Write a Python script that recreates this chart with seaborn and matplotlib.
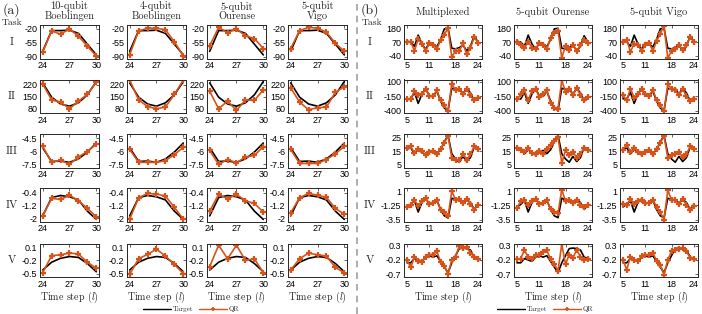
import matplotlib
matplotlib.use('Agg')
import matplotlib.pyplot as plt
import seaborn as sns
from matplotlib.lines import Line2D

sns.set_theme(style='white')
plt.rcParams['font.family'] = ['Liberation Sans', 'DejaVu Sans']
plt.rcParams['mathtext.fontset'] = 'cm'
plt.rcParams['axes.unicode_minus'] = False

# ---- data -------------------------------------------------------------
tasks = ['I', 'II', 'III', 'IV', 'V']
steps_a = [24, 25, 26, 27, 28, 29, 30]
steps_b = list(range(5, 25))

devices_a = ['10-qubit\nBoeblingen', '4-qubit\nBoeblingen', '5-qubit\nOurense', '5-qubit\nVigo']
devices_b = ['Multiplexed', '5-qubit Ourense', '5-qubit Vigo']

xticks_a = [24, 27, 30]
xticks_b = [5, 11, 18, 24]
yticks_a = [[-90, -55, -20], [80, 150, 220], [-7.5, -6, -4.5], [-2, -1.2, -0.4], [-0.5, -0.2, 0.1]]
yticks_b = [[-40, 70, 180], [-400, -150, 100], [5, 15, 25], [-3.5, -1.25, 1], [-0.7, -0.2, 0.3]]

target_a = [
    [-76, -24, -24, -23, -31, -58, -85],
    [232, 148, 108, 95, 115, 162, 240],
    [-5.6, -7.2, -7.15, -7.3, -6.9, -6.1, -5.05],
    [-1.85, -0.7, -0.57, -0.65, -0.85, -1.55, -2.07],
    [-0.42, -0.24, -0.15, -0.11, -0.13, -0.27, -0.46],
]
qr_a_boe10 = [
    [-78, -25, -33, -20, -38, -63, -88],
    [226, 132, 119, 80, 125, 164, 236],
    [-5.44, -7.3, -7.05, -7.53, -6.67, -6.04, -5.17],
    [-1.84, -0.75, -0.82, -0.55, -0.9, -1.38, -1.9],
    [-0.48, -0.09, -0.07, -0.03, -0.05, -0.24, -0.38],
]
qr_a_boe4 = [
    [-84, -25, -18, -18, -22, -52, -88],
    [249, 132, 93, 80, 90, 164, 249],
    [-5.8, -7.3, -7.3, -7.3, -7.1, -6.4, -5.55],
    [-2.05, -0.71, -0.44, -0.48, -0.6, -1.32, -2.05],
    [-0.52, -0.16, -0.06, 0.06, -0.1, -0.29, -0.5],
]
qr_a_ourense = [
    [-62, -16, -29, -20, -37, -44, -69],
    [183, 80, 125, 70, 132, 129, 191],
    [-5.92, -7.53, -6.97, -7.35, -6.67, -6.5, -5.47],
    [-1.55, -0.5, -0.77, -0.5, -0.9, -1.07, -1.6],
    [-0.34, 0.15, -0.16, 0.15, -0.2, -0.16, -0.48],
]
qr_a_vigo = [
    [-69, -24, -16, -18, -28, -56, -76],
    [203, 119, 74, 86, 90, 177, 210],
    [-5.8, -7.43, -7.43, -7.43, -6.97, -6.3, -5.44],
    [-1.65, -0.71, -0.44, -0.55, -0.69, -1.38, -1.75],
    [-0.42, -0.16, -0.03, -0.07, -0.1, -0.36, -0.48],
]

target_b = [
    [75, 70, 35, 125, 55, 10, 65, 55, 30, 90, 175, 180, 20, 15, 25, 45, 0, 35, 120, 70],
    [-190, -195, -80, -270, -110, -20, -140, -150, -60, -230, -350, -390, -10, -30, -15, -110, -10, -90, -230, -170],
    [16.5, 17.5, 13, 16, 14, 12, 14.5, 15.5, 13, 16, 22, 27, 13, 9, 6.5, 11, 7, 10, 18, 16],
    [-1.5, -1.1, -0.5, -2.3, -0.8, -0.2, -1.0, -0.8, -0.4, -1.9, -2.9, -3.2, -0.1, -0.4, -0.3, -0.9, -0.3, -0.8, -1.9, -1.1],
    [-0.3, -0.3, -0.15, -0.2, -0.25, -0.1, -0.05, -0.1, -0.05, -0.25, -0.45, -0.65, -0.3, -0.05, 0.2, 0.22, 0.2, 0.15, -0.1, -0.15],
]
qr_b_multi = [
    [72, 72, 0, 95, 55, -2, 60, 50, 12, 85, 130, 180, -50, -2, -2, 60, -25, 20, 110, 65],
    [-202, -202, -58, -133, -115, -18, -150, -150, -46, -219, -305, -403, 68, -46, -18, -115, -18, -133, -219, -173],
    [17.5, 18.5, 13.5, 16.8, 15, 11.8, 14.3, 15, 12.5, 16.8, 21, 26.8, 10, 8.5, 8, 13, 8.5, 12.5, 18.5, 16.8],
    [-1.5, -1.15, -0.45, -1.3, -0.6, -0.1, -1.0, -0.8, -0.35, -1.94, -2.36, -3.0, 1.0, -0.35, -0.25, -0.88, -0.25, -1.0, -1.94, -1.15],
    [-0.2, -0.46, -0.09, -0.23, -0.27, -0.09, -0.01, -0.01, 0.11, -0.27, -0.4, -0.69, -0.2, -0.09, 0.28, 0.22, 0.25, 0.05, -0.09, -0.15],
]
qr_b_ourense = [
    [72, 50, 20, 72, 25, 12, 65, 46, 12, 105, 145, 160, -55, 38, 4, 46, -2, 46, 90, 65],
    [-202, -115, -46, -219, -58, -18, -161, -115, -46, -265, -345, -363, 126, -75, -18, -133, -1, -133, -219, -161],
    [17.5, 16, 14.3, 17.5, 13.5, 13, 15, 13, 16.8, 19.3, 22.5, 25.5, 6, 15.5, 11.8, 14.3, 10, 13, 17.5, 15.5],
    [-1.67, -0.6, -0.45, -1.15, -0.6, -0.25, -1.0, -0.8, -0.45, -1.83, -2.36, -2.47, 1.24, -0.6, -0.35, -0.8, -0.35, -1.15, -1.5, -1.15],
    [-0.18, -0.15, 0.14, -0.09, -0.15, -0.01, -0.01, 0.07, 0.14, -0.18, -0.35, -0.58, 0.36, -0.35, -0.01, -0.12, 0.16, -0.09, -0.2, -0.15],
]
qr_b_vigo = [
    [72, 90, -8, 57, 46, -2, 50, 65, -2, 78, 137, 200, -58, -2, 12, 46, 4, 46, 110, 72],
    [-133, -219, -18, -173, -115, -18, -115, -150, -35, -219, -305, -403, 57, -18, -46, -133, -18, -150, -230, -190],
    [16, 20, 14.3, 17.5, 14.3, 12.5, 14.3, 15.5, 12.5, 16.8, 21, 26.8, 10, 11.8, 12.5, 14.3, 10.5, 12.5, 18.5, 16.8],
    [-1.0, -1.15, -0.25, -1.0, -0.6, -0.35, -0.8, -0.88, -0.35, -1.5, -2.36, -3.5, 1.13, -0.35, -0.45, -1.0, -0.25, -1.15, -2.05, -1.3],
    [-0.2, -0.54, -0.09, -0.2, -0.23, -0.06, -0.01, -0.04, 0.05, -0.23, -0.38, -0.72, -0.2, 0.11, 0.16, 0.19, 0.22, 0.11, -0.12, -0.15],
]

ylims_a = [(-94, -10), (55, 252), (-7.9, -4.0), (-2.2, -0.1), (-0.58, 0.19)]
ylims_b = [(-62, 206), (-435, 140), (2.5, 28), (-3.8, 1.5), (-0.8, 0.38)]

# ---- style -------------------------------------------------------------
ORANGE = '#D95319'
SERIF = 'cmr10'
W, H = 702, 314
fig = plt.figure(figsize=(W / 100, H / 100), dpi=100)

row_tops = [25, 79.5, 134, 188, 243.5]
row_h = 33.5
cols_a = [40, 127, 207, 288]
col_w_a = 59
cols_b = [404, 514, 620]
col_w_b = 78


def fmt(v):
    return '%g' % v


def panel(left, top, width, xs, target, qr, xticks, yticks, ylim, xlim, bottom_row):
    ax = fig.add_axes([left / W, 1 - (top + row_h) / H, width / W, row_h / H])
    sns.lineplot(x=xs, y=target, ax=ax, color='black', linewidth=1.2)
    sns.lineplot(x=xs, y=qr, ax=ax, color=ORANGE, linewidth=1.2,
                 marker='+', markersize=4.5, markeredgewidth=1.6,
                 markeredgecolor=ORANGE)
    ax.set_xlim(xlim)
    ax.set_ylim(ylim)
    ax.set_xticks(xticks, labels=[fmt(v) for v in xticks])
    ax.set_yticks(yticks, labels=[fmt(v) for v in yticks])
    ax.tick_params(direction='in', length=2, width=0.5, labelsize=6.5,
                   top=True, right=True, pad=2, colors='#262626')
    ax.tick_params(labelcolor='black')
    for s in ax.spines.values():
        s.set_linewidth(0.7)
        s.set_color('#262626')
    ax.set_xlabel('')
    ax.set_ylabel('')
    if bottom_row:
        ax.set_xlabel(r'Time step $(l)$', fontfamily=SERIF, fontsize=7.2, labelpad=0.5)
    return ax


qr_a = [qr_a_boe10, qr_a_boe4, qr_a_ourense, qr_a_vigo]
qr_b = [qr_b_multi, qr_b_ourense, qr_b_vigo]

for r in range(5):
    for c in range(4):
        panel(cols_a[c], row_tops[r], col_w_a, steps_a, target_a[r], qr_a[c][r],
              xticks_a, yticks_a[r], ylims_a[r], (23.7, 30.3), r == 4)
    for c in range(3):
        panel(cols_b[c], row_tops[r], col_w_b, steps_b, target_b[r], qr_b[c][r],
              xticks_b, yticks_b[r], ylims_b[r], (4.2, 25.1), r == 4)
    yc = 1 - (row_tops[r] + row_h / 2) / H
    fig.text(12 / W, yc, tasks[r], fontfamily=SERIF, fontsize=8, ha='center', va='center')
    fig.text(370 / W, yc, tasks[r], fontfamily=SERIF, fontsize=8, ha='center', va='center')

for c in range(4):
    fig.text((cols_a[c] + col_w_a / 2) / W, 1 - 21 / H, devices_a[c], fontfamily=SERIF,
             fontsize=7.5, ha='center', va='bottom', linespacing=1.0)
for c in range(3):
    fig.text((cols_b[c] + col_w_b / 2) / W, 1 - 12 / H, devices_b[c], fontfamily=SERIF,
             fontsize=7.5, ha='center', va='center')

fig.text(11 / W, 1 - 10 / H, '(a)', fontfamily=SERIF, fontsize=10, ha='center', va='center')
fig.text(12 / W, 1 - 23 / H, 'Task', fontfamily=SERIF, fontsize=7, ha='center', va='center')
fig.text(370 / W, 1 - 10 / H, '(b)', fontfamily=SERIF, fontsize=10, ha='center', va='center')
fig.text(372 / W, 1 - 23 / H, 'Task', fontfamily=SERIF, fontsize=7, ha='center', va='center')

# dashed separator between panels
fig.add_artist(Line2D([357 / W, 357 / W], [0, 1], transform=fig.transFigure,
                      color='#a0a0a0', linewidth=1.2, linestyle=(0, (4, 3))))

handles = [Line2D([], [], color='black', linewidth=1.0),
           Line2D([], [], color=ORANGE, linewidth=1.0, marker='+',
                  markersize=3.5, markeredgewidth=1.2)]
for cx in (191, 545):
    fig.legend(handles, ['Target', 'QR'], loc='center', ncol=2, frameon=False,
               bbox_to_anchor=(cx / W, 1 - 309.5 / H), handlelength=4,
               handletextpad=0.3, columnspacing=0.8, borderpad=0.1,
               prop={'family': SERIF, 'size': 5})

fig.savefig('out.png', dpi=100)
